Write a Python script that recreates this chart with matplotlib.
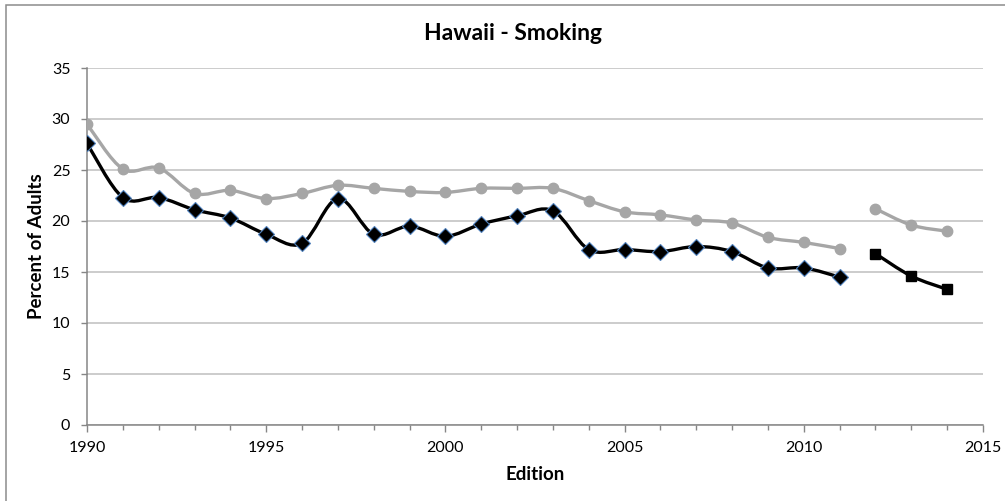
import matplotlib
matplotlib.use("Agg")
import matplotlib.pyplot as plt
from matplotlib.path import Path
from matplotlib.patches import PathPatch, Rectangle
from matplotlib.ticker import MultipleLocator
import numpy as np

plt.rcParams['font.family'] = ['Lato', 'DejaVu Sans']

# ---- data ----
years_a = [1990, 1991, 1992, 1993, 1994, 1995, 1996, 1997, 1998, 1999, 2000,
           2001, 2002, 2003, 2004, 2005, 2006, 2007, 2008, 2009, 2010, 2011]
years_b = [2012, 2013, 2014]
gray_a = [29.5, 25.1, 25.2, 22.7, 23.0, 22.2, 22.7, 23.5, 23.2, 22.9, 22.8,
          23.2, 23.2, 23.2, 22.0, 20.9, 20.6, 20.1, 19.8, 18.4, 17.9, 17.3]
gray_b = [21.2, 19.6, 19.0]
black_a = [27.6, 22.3, 22.3, 21.1, 20.3, 18.7, 17.8, 22.2, 18.7, 19.5, 18.5,
           19.7, 20.5, 21.0, 17.2, 17.2, 17.0, 17.5, 17.0, 15.4, 15.4, 14.5]
black_b = [16.8, 14.6, 13.3]

title = "Hawaii - Smoking"
xlabel = "Edition"
ylabel = "Percent of Adults"

GRAY = "#a6a6a6"
AXC = "#868686"
GRID = "#bfbfbf"

W, H = 1005, 501
fig = plt.figure(figsize=(W / 100, H / 100), dpi=100)
ax = fig.add_axes([87 / W, 1 - 425 / H, (983 - 87) / W, (425 - 68) / H])


def smooth_path(xs, ys):
    xs = np.asarray(xs, float)
    ys = np.asarray(ys, float)
    n = len(xs)
    verts = [(xs[0], ys[0])]
    codes = [Path.MOVETO]
    for i in range(n - 1):
        i0 = max(i - 1, 0)
        i3 = min(i + 2, n - 1)
        c1 = (xs[i] + (xs[i + 1] - xs[i0]) / 6, ys[i] + (ys[i + 1] - ys[i0]) / 6)
        c2 = (xs[i + 1] - (xs[i3] - xs[i]) / 6, ys[i + 1] - (ys[i3] - ys[i]) / 6)
        verts += [c1, c2, (xs[i + 1], ys[i + 1])]
        codes += [Path.CURVE4] * 3
    return Path(verts, codes)


LW = 2.4
for xs, ys in [(years_a, gray_a), (years_b, gray_b)]:
    ax.add_patch(PathPatch(smooth_path(xs, ys), fill=False, edgecolor=GRAY,
                           lw=LW, zorder=3, capstyle='round', joinstyle='round'))
    ax.plot(xs, ys, ls='none', marker='o', ms=7.5, color=GRAY, zorder=4)

ax.add_patch(PathPatch(smooth_path(years_a, black_a), fill=False, edgecolor='black',
                       lw=LW, zorder=5, capstyle='round', joinstyle='round'))
ax.plot(years_a, black_a, ls='none', marker='D', ms=8, markerfacecolor='black',
        markeredgecolor='#4f81bd', markeredgewidth=0.8, zorder=6)

ax.add_patch(PathPatch(smooth_path(years_b, black_b), fill=False, edgecolor='black',
                       lw=LW, zorder=5, capstyle='round', joinstyle='round'))
ax.plot(years_b, black_b, ls='none', marker='s', ms=7.3, color='black', zorder=6)

ax.set_xlim(1990, 2015)
ax.set_ylim(0, 35)
ax.xaxis.set_major_locator(MultipleLocator(5))
ax.xaxis.set_minor_locator(MultipleLocator(1))
ax.yaxis.set_major_locator(MultipleLocator(5))

ax.grid(axis='y', color=GRID, lw=1.1, zorder=0)
ax.set_axisbelow(True)
for s in ['top', 'right']:
    ax.spines[s].set_visible(False)
for s in ['left', 'bottom']:
    ax.spines[s].set_color(AXC)
    ax.spines[s].set_linewidth(1.1)
    ax.spines[s].set_zorder(2)

ax.tick_params(axis='x', which='major', direction='out', length=5, width=1, color=AXC,
               labelsize=11.5, pad=6.5, labelcolor='black')
ax.tick_params(axis='x', which='minor', direction='out', length=3.5, width=1, color=AXC)
ax.tick_params(axis='y', which='major', direction='out', length=4.5, width=1, color=AXC,
               labelsize=11.5, pad=7.5, labelcolor='black')

fig.text(513 / W, 1 - 34 / H, title, ha='center', va='center', fontsize=16.5,
         fontweight='bold')
fig.text(535 / W, 1 - 475 / H, xlabel, ha='center', va='center', fontsize=13.5,
         fontweight='bold')
fig.text(37 / W, 1 - 246 / H, ylabel, ha='center', va='center', fontsize=13.5,
         fontweight='bold', rotation=90)

# outer chart border (right/bottom sides fall outside the image)
fig.patches.append(Rectangle((6 / W, -0.05), 1.2, 1 - 5 / H + 0.05, transform=fig.transFigure,
                             fill=False, edgecolor='#8c8c8c', lw=1.1))

fig.savefig("out.png", dpi=100)
